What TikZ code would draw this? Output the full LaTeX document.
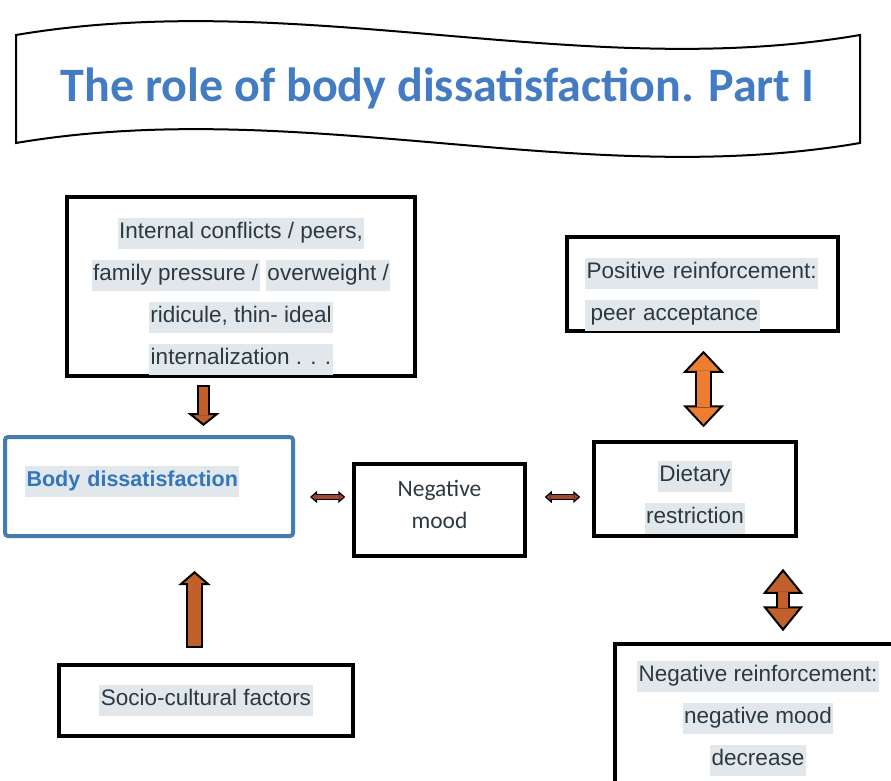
\documentclass[tikz,border=0pt]{standalone}
\usepackage{fontspec}
\setmainfont{Liberation Sans}
\newfontfamily\calibri{Carlito}
\usetikzlibrary{arrows.meta,calc}

\definecolor{titleblue}{RGB}{68,124,196}
\definecolor{boxblue}{RGB}{70,125,175}
\definecolor{bodyblue}{RGB}{50,118,188}
\definecolor{txtgray}{RGB}{43,58,66}
\definecolor{hlgray}{RGB}{226,231,235}
\definecolor{arrbrown}{RGB}{194,96,44}
\definecolor{arrorange}{RGB}{237,125,49}
\definecolor{arrred}{RGB}{160,72,50}

% grey highlight behind a text run
\newcommand\hl[1]{{\setlength{\fboxsep}{1.5pt}\colorbox{hlgray}{\rule[-9pt]{0pt}{28pt}#1}}}
% invisible struts to push the text lines up or down in a box
\newcommand\uppad[1]{\rule{0pt}{#1}}
\newcommand\downpad[1]{\rule[-#1]{0pt}{#1}}

\tikzset{
  box/.style={draw=black, line width=3.5pt, fill=white, inner sep=0pt,
    align=center, text=txtgray, font=\fontsize{22.5}{42}\selectfont},
  banner/.style={draw=black, line width=2pt, fill=white}
}

\begin{document}
\begin{tikzpicture}[x=1pt,y=1pt]
  \useasboundingbox (0,0) rectangle (891,-781);
  \clip (0,0) rectangle (891,-781);
  \fill[white] (0,0) rectangle (891,-781);

  % Title banner
  \draw[banner] (16,-35) .. controls (300,13) and (580,-83) .. (860,-35)
    -- (860,-143) .. controls (580,-191) and (300,-95) .. (16,-143) -- cycle;
  \node[font=\calibri\bfseries\fontsize{48}{50}\selectfont, text=titleblue] (title)
    at (437.5,-88) {The role of body dissatisfaction. Part I};

  % Boxes
  \node[box, minimum width=348pt, minimum height=179pt] (inner) at (241,-286.5)
    {\uppad{40pt}\hl{Internal conflicts / peers,}\\ \hl{family pressure /} \hl{overweight /}\\
     \hl{ridicule, thin- ideal}\\ \hl{internalization . . .}};
  \node[box, draw=boxblue, line width=4pt, rounded corners=3pt, minimum width=288pt,
    minimum height=99pt, text width=248pt, align=left, text=bodyblue,
    font=\bfseries\fontsize{21.5}{42}\selectfont] (body) at (149,-486.5)
    {\downpad{21.5pt}\hl{Body dissatisfaction}};
  \node[box, minimum width=171pt, minimum height=92pt,
    font=\calibri\fontsize{23.5}{32}\selectfont] (mood) at (439.5,-510)
    {Negative\\mood\downpad{12pt}};
  \node[box, minimum width=202pt, minimum height=94pt] (diet) at (695,-489)
    {\uppad{36.5pt}\hl{Dietary}\\ \hl{restriction}};
  \node[box, minimum width=271pt, minimum height=94pt, text width=235pt, align=left]
    (posr) at (702.5,-284)
    {\uppad{40.5pt}\hl{Positive reinforcement:}\\ \hl{\hspace{4pt}peer acceptance}};
  \node[box, minimum width=294pt, minimum height=71pt] (socio) at (206,-700.5)
    {\hl{Socio-cultural factors}};
  \node[box, minimum width=286pt, minimum height=142pt] (negr) at (758,-715)
    {\uppad{26.5pt}\hl{Negative reinforcement:}\\ \hl{negative mood}\\ \hl{decrease}};

  % Arrow
  \draw[line width=13pt, -{Triangle[length=13pt,width=32pt,line width=2pt,fill=arrbrown]}]
    ($(inner.south)+(-37.5,-7)$) -- ($(body.north)+(54.5,9)$);
  \draw[line width=9pt, arrbrown, shorten <=2pt, shorten >=11pt]
    ($(inner.south)+(-37.5,-7)$) -- ($(body.north)+(54.5,9)$);

  % Arrow
  \draw[line width=17pt, -{Triangle[length=14pt,width=32pt,line width=2pt,fill=arrbrown]}]
    ($(socio.north)+(-11.5,15)$) -- ($(body.south)+(45.5,-33)$);
  \draw[line width=13pt, arrbrown, shorten <=2pt, shorten >=12pt]
    ($(socio.north)+(-11.5,15)$) -- ($(body.south)+(45.5,-33)$);

  % Arrow
  \draw[line width=6pt, {Triangle[length=7pt,width=12pt,line width=1.2pt,fill=arrred]}-{Triangle[length=7pt,width=12pt,line width=1.2pt,fill=arrred]}]
    ($(body.east)+(15,-10.5)$) -- ($(mood.west)+(-7,13)$);
  \draw[line width=3.5pt, arrred, shorten <=6pt, shorten >=6pt]
    ($(body.east)+(15,-10.5)$) -- ($(mood.west)+(-7,13)$);

  % Arrow
  \draw[line width=6pt, {Triangle[length=7pt,width=12pt,line width=1.2pt,fill=arrred]}-{Triangle[length=7pt,width=12pt,line width=1.2pt,fill=arrred]}]
    ($(mood.east)+(18,13)$) -- ($(diet.west)+(-12,-8)$);
  \draw[line width=3.5pt, arrred, shorten <=6pt, shorten >=6pt]
    ($(mood.east)+(18,13)$) -- ($(diet.west)+(-12,-8)$);

  % Arrow
  \draw[line width=17pt, {Triangle[length=22pt,width=41pt,line width=2pt,fill=arrorange]}-{Triangle[length=22pt,width=41pt,line width=2pt,fill=arrorange]}]
    ($(posr.south)+(1,-18)$) -- ($(diet.north)+(8.5,13)$);
  \draw[line width=13pt, arrorange, shorten <=20pt, shorten >=20pt]
    ($(posr.south)+(1,-18)$) -- ($(diet.north)+(8.5,13)$);

  % Arrow
  \draw[line width=14pt, {Triangle[length=25pt,width=40pt,line width=2pt,fill=arrbrown]}-{Triangle[length=25pt,width=40pt,line width=2pt,fill=arrbrown]}]
    ($(diet.south)+(88,-31)$) -- ($(negr.north)+(25,11)$);
  \draw[line width=10pt, arrbrown, shorten <=23pt, shorten >=23pt]
    ($(diet.south)+(88,-31)$) -- ($(negr.north)+(25,11)$);
\end{tikzpicture}
\end{document}
